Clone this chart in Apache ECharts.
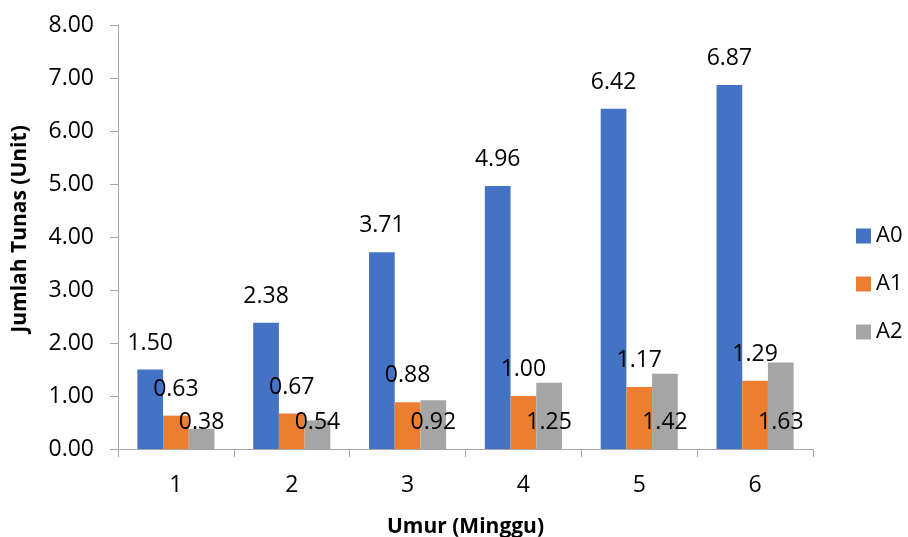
<!DOCTYPE html>
<html>
<head>
<meta charset="utf-8">
<script src="https://cdn.jsdelivr.net/npm/echarts@6/dist/echarts.min.js"></script>
<style>html,body{margin:0;padding:0;background:#fff}#c{width:908px;height:537px}</style>
</head>
<body>
<div id="c"></div>
<script>
var categories = ['1', '2', '3', '4', '5', '6'];
var seriesNames = ['A0', 'A1', 'A2'];
var a0 = [1.50, 2.38, 3.71, 4.96, 6.42, 6.87];
var a1 = [0.63, 0.67, 0.88, 1.00, 1.17, 1.29];
var a2 = [0.38, 0.54, 0.92, 1.25, 1.42, 1.63];
var yTicks = { min: 0, max: 8, interval: 1 };

var FONT = '"Open Sans", "Liberation Sans", sans-serif';
var colors = ['#4472C4', '#ED7D31', '#A5A5A5'];
var labelStyle = { fontFamily: FONT, fontSize: 23, color: '#000', formatter: function (p) { return p.value.toFixed(2); } };

var chart = echarts.init(document.getElementById('c'), null, { renderer: 'canvas' });
chart.setOption({
  animation: false,
  backgroundColor: '#fff',
  color: colors,
  grid: { left: 118, right: 95, top: 25, bottom: 88, containLabel: false, outerBoundsMode: 'none' },
  legend: {
    orient: 'vertical', left: 856, top: 225, padding: 0,
    itemWidth: 15, itemHeight: 15, itemGap: 26,
    icon: 'rect',
    textStyle: { fontFamily: FONT, fontSize: 22, color: '#000' },
    data: seriesNames
  },
  xAxis: {
    type: 'category', data: categories,
    name: 'Umur (Minggu)', nameLocation: 'middle', nameGap: 68,
    nameTextStyle: { fontFamily: FONT, fontSize: 21, fontWeight: 'bold', color: '#000' },
    axisLine: { show: true, lineStyle: { color: '#A6A6A6', width: 1 } },
    axisTick: { show: true, alignWithLabel: false, length: 8, lineStyle: { color: '#A6A6A6' } },
    axisLabel: { fontFamily: FONT, fontSize: 23, color: '#000', margin: 25 },
    splitLine: { show: false }
  },
  yAxis: {
    type: 'value', min: yTicks.min, max: yTicks.max, interval: yTicks.interval,
    name: 'Jumlah Tunas (Unit)', nameLocation: 'middle', nameGap: 87,
    nameTextStyle: { fontFamily: FONT, fontSize: 21, fontWeight: 'bold', color: '#000', padding: [0, 0, 0, 16] },
    axisLine: { show: true, lineStyle: { color: '#A6A6A6', width: 1 } },
    axisTick: { show: true, length: 8, lineStyle: { color: '#A6A6A6' } },
    axisLabel: { fontFamily: FONT, fontSize: 23, color: '#000', margin: 24, formatter: function (v) { return v.toFixed(2); } },
    splitLine: { show: false }
  },
  series: [
    { name: seriesNames[0], type: 'bar', data: a0, barWidth: 25.7, barGap: '0%',
      label: Object.assign({ show: true, position: 'top', distance: 15 }, labelStyle) },
    { name: seriesNames[1], type: 'bar', data: a1, barWidth: 25.7, barGap: '0%',
      label: Object.assign({ show: true, position: 'top', distance: 15 }, labelStyle) },
    { name: seriesNames[2], type: 'bar', data: a2, barWidth: 25.7, barGap: '0%',
      label: Object.assign({ show: true, position: 'insideBottom', distance: 15 }, labelStyle) }
  ]
});
</script>
</body>
</html>
